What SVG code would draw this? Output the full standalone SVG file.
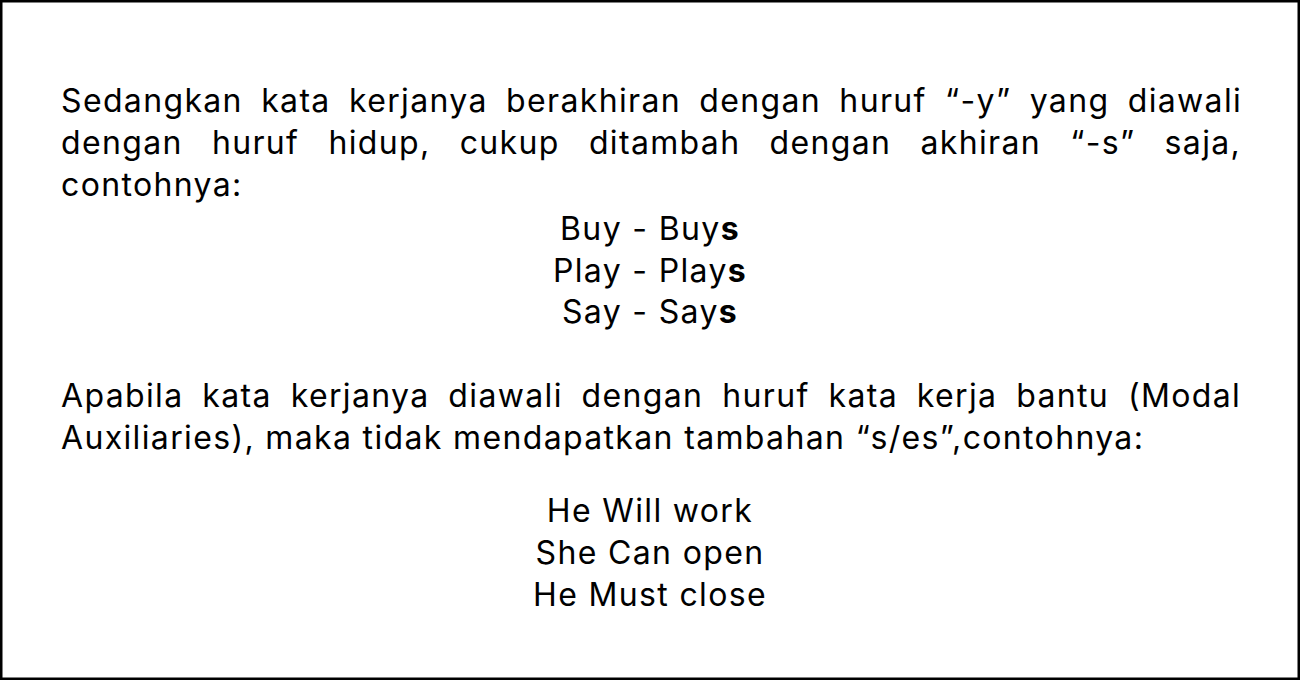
<svg xmlns="http://www.w3.org/2000/svg" width="1300" height="680" viewBox="0 0 1300 680">
<style>
text{font-family:Inter,"Noto Sans","Liberation Sans",sans-serif;font-size:32px;fill:#000;letter-spacing:1.35px}
.c{text-anchor:middle}
.b{font-weight:700}
</style>
<rect x="0" y="0" width="1300" height="680" fill="#fff"/>
<rect x="1.25" y="1.25" width="1297.5" height="677.5" fill="none" stroke="#000" stroke-width="2.5"/>
<g id="para1">
<text x="61" y="112" style="word-spacing:7.95px">Sedangkan kata kerjanya berakhiran dengan huruf “-y” yang diawali</text>
<text x="61" y="154" style="word-spacing:18.8px">dengan huruf hidup, cukup ditambah dengan akhiran “-s” saja,</text>
<text x="61" y="196">contohnya:</text>
</g>
<g id="examples1">
<text class="c" x="650" y="240">Buy - Buy<tspan class="b">s</tspan></text>
<text class="c" x="650" y="282">Play - Play<tspan class="b">s</tspan></text>
<text class="c" x="650" y="323">Say - Say<tspan class="b">s</tspan></text>
</g>
<g id="para2">
<text x="61" y="407" style="word-spacing:8.5px">Apabila kata kerjanya diawali dengan huruf kata kerja bantu (Modal</text>
<text x="61" y="449">Auxiliaries), maka tidak mendapatkan tambahan “s/es”,contohnya:</text>
</g>
<g id="examples2">
<text class="c" x="650" y="522">He Will work</text>
<text class="c" x="650" y="564">She Can open</text>
<text class="c" x="650" y="606">He Must close</text>
</g>
</svg>
